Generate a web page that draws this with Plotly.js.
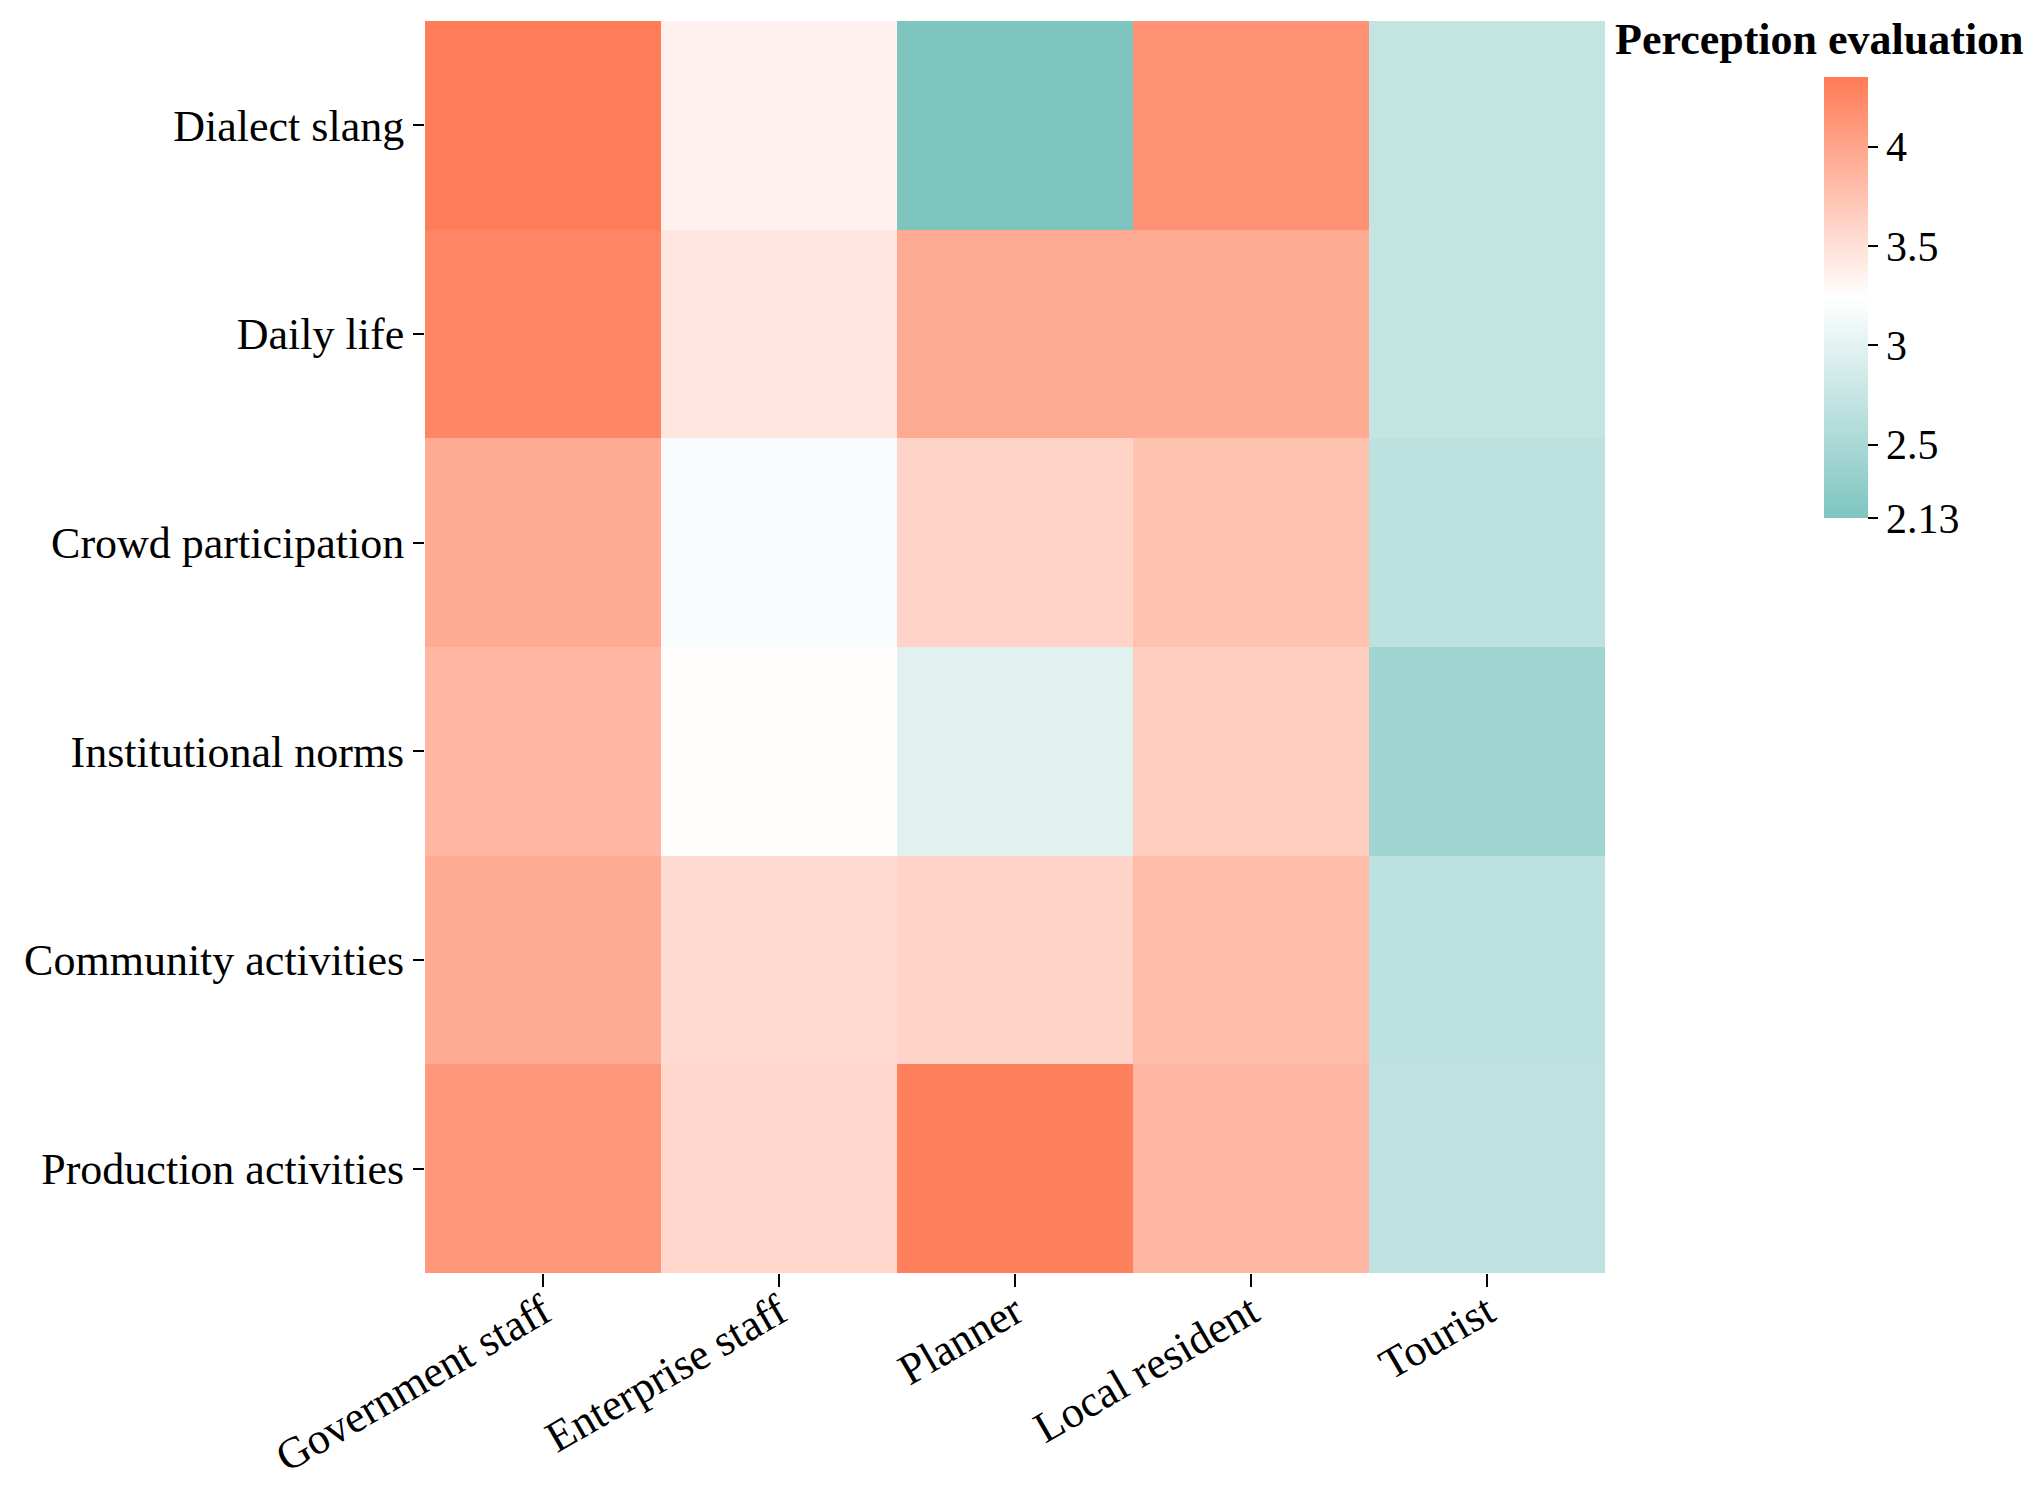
<!DOCTYPE html>
<html>
<head>
<meta charset="utf-8">
<script src="https://cdn.plot.ly/plotly-3.0.1.min.js"></script>
<style>html,body{margin:0;padding:0;background:#fff;}#chart{width:2036px;height:1485px;}</style>
</head>
<body>
<div id="chart"></div>
<script>
var groups = ["Government staff", "Enterprise staff", "Planner", "Local resident", "Tourist"];
var aspects = ["Dialect slang", "Daily life", "Crowd participation", "Institutional norms", "Community activities", "Production activities"];
// rows follow aspects (top to bottom), columns follow groups
var dialectSlang        = [4.33, 3.35, 2.13, 4.15, 2.72];
var dailyLife           = [4.25, 3.45, 3.95, 3.95, 2.73];
var crowdParticipation  = [3.95, 3.18, 3.60, 3.75, 2.67];
var institutionalNorms  = [3.85, 3.25, 2.97, 3.65, 2.42];
var communityActivities = [3.95, 3.55, 3.60, 3.80, 2.67];
var productionActivities= [4.10, 3.57, 4.30, 3.85, 2.69];
var cbTickVals = [2.13, 2.5, 3, 3.5, 4];
var cbTickText = ["2.13", "2.5", "3", "3.5", "4"];
var zMin = 2.13, zMax = 4.35;

var z = [dialectSlang, dailyLife, crowdParticipation, institutionalNorms, communityActivities, productionActivities];

var trace = {
  type: 'heatmap',
  x: groups,
  y: aspects,
  z: z,
  zmin: zMin,
  zmax: zMax,
  colorscale: [[0, '#7EC5C0'], [0.5, '#FFFFFF'], [1, '#FF7A55']],
  xgap: 0, ygap: 0,
  colorbar: {
    x: 1.186, xanchor: 'left', xref: 'paper',
    y: 0.779, yanchor: 'middle',
    len: 441, lenmode: 'pixels',
    thickness: 44, thicknessmode: 'pixels',
    outlinewidth: 0,
    tickvals: cbTickVals, ticktext: cbTickText,
    ticks: 'outside', ticklen: 10, tickwidth: 2, tickcolor: '#000',
    tickfont: {family: 'Liberation Serif', size: 42, color: '#000'},
    xpad: 0, ypad: 0
  }
};

var layout = {
  width: 2036, height: 1485,
  margin: {l: 425, r: 431, t: 21, b: 212},
  paper_bgcolor: '#fff', plot_bgcolor: '#fff',
  xaxis: {
    type: 'category', tickangle: -30, ticks: 'outside', ticklen: 13, tickwidth: 2, tickcolor: '#000',
    ticklabelstandoff: -18,
    showline: false, showgrid: false, zeroline: false,
    tickfont: {family: 'Liberation Serif', size: 44, color: '#000'}
  },
  yaxis: {
    type: 'category', autorange: 'reversed', ticks: 'outside', ticklen: 11, tickwidth: 2, tickcolor: '#000',
    showline: false, showgrid: false, zeroline: false,
    tickfont: {family: 'Liberation Serif', size: 44, color: '#000'}
  },
  annotations: [{
    text: '<b>Perception evaluation</b>', xref: 'paper', yref: 'paper',
    x: 1.007, y: 0.985, xanchor: 'left', yanchor: 'middle', showarrow: false,
    font: {family: 'Liberation Serif', size: 44, color: '#000'}
  }]
};

Plotly.newPlot('chart', [trace], layout, {displayModeBar: false, staticPlot: true});
</script>
</body>
</html>
